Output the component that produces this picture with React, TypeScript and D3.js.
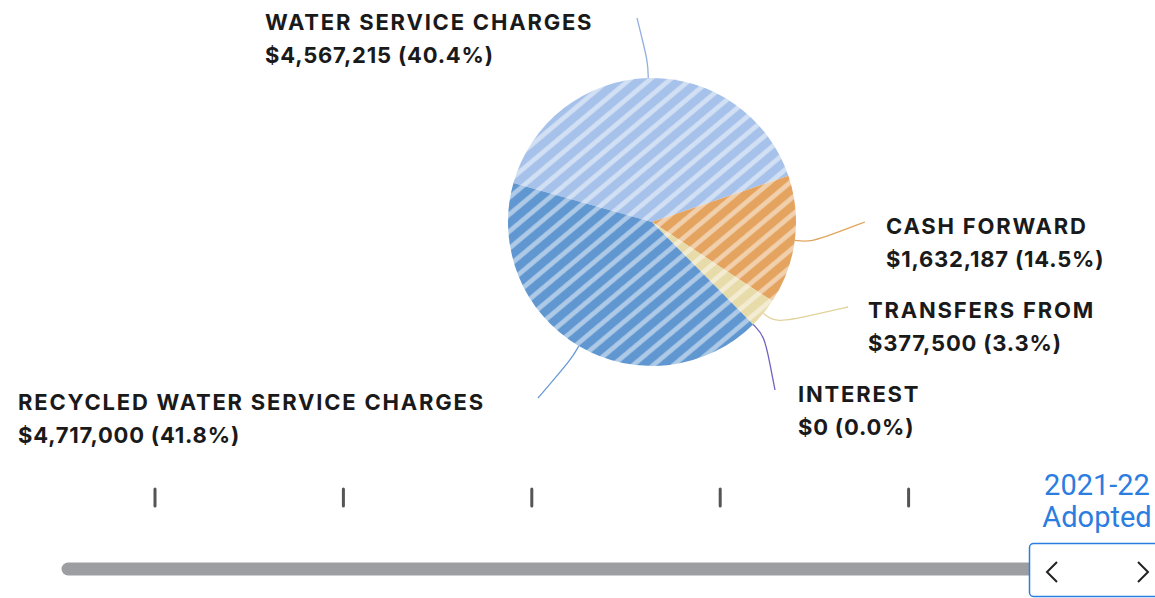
import * as d3 from "d3";

// budget sources for the selected year
const categories = [
  "WATER SERVICE CHARGES",
  "CASH FORWARD",
  "TRANSFERS FROM",
  "INTEREST",
  "RECYCLED WATER SERVICE CHARGES",
];
const amounts = [4567215, 1632187, 377500, 0, 4717000];
const years = ["2016-17", "2017-18", "2018-19", "2019-20", "2020-21", "2021-22"];
const selectedYear = "2021-22";
const selectedLabel = "Adopted";

const W = 1155;
const H = 598;

const fills = ["#a7c2ea", "#e4a35f", "#e7dba9", "#8b7fd0", "#6097d1"];
const lineColors = ["#93afdf", "#e2a55f", "#e2d29c", "#6f62c2", "#6a9ad6"];

// label placement (x, first baseline, connector end point)
const labelPos = [
  { x: 265, y: 30, ex: 637, ey: 18 },
  { x: 886, y: 234, ex: 865, ey: 222 },
  { x: 868, y: 318, ex: 848, ey: 307 },
  { x: 798, y: 402, ex: 775, ey: 390 },
  { x: 18, y: 410, ex: 538, ey: 398 },
];

const fmt = d3.format("$,");
const pctFmt = d3.format(".1%");

export default function App() {
  const cx = 652;
  const cy = 222;
  const r = 144;
  const total = d3.sum(amounts);

  const startDeg = 71.3 - (amounts[0] / total) * 360;
  const pie = d3
    .pie<number>()
    .sort(null)
    .startAngle((startDeg * Math.PI) / 180)
    .endAngle((startDeg * Math.PI) / 180 + 2 * Math.PI)
    .value((d) => d);
  const arcs = pie(amounts);
  const arc = d3.arc<d3.PieArcDatum<number>>().innerRadius(0).outerRadius(r);

  const curve = d3.line().curve(d3.curveBasis);

  const x = d3.scalePoint<string>().domain(years).range([155, 1097]);
  const selX = x(selectedYear) as number;

  return (
    <svg
      width={W}
      height={H}
      style={{ position: "absolute", left: 0, top: 0, background: "#fff" }}
    >
      <defs>
        {fills.map((c, i) => (
          <pattern
            key={i}
            id={`stripe${i}`}
            width={13}
            height={13}
            patternUnits="userSpaceOnUse"
            patternTransform="rotate(-40)"
          >
            <rect width={13} height={13} fill={c} />
            <rect y={4} width={13} height={5} fill="#fff" opacity={0.4} />
            <rect y={5} width={13} height={3} fill="#fff" opacity={0.15} />
          </pattern>
        ))}
      </defs>

      <g transform={`translate(${cx},${cy})`}>
        {arcs.map((a, i) => (
          <path key={i} d={arc(a) || ""} fill={`url(#stripe${i})`} />
        ))}
      </g>

      {arcs.map((a, i) => {
        const mid = (a.startAngle + a.endAngle) / 2;
        const p0: [number, number] = [cx + Math.sin(mid) * r, cy - Math.cos(mid) * r];
        const p1: [number, number] = [
          cx + Math.sin(mid) * (r + 16),
          cy - Math.cos(mid) * (r + 16),
        ];
        const lp = labelPos[i];
        const p2: [number, number] = [(p1[0] + lp.ex) / 2, (p1[1] + lp.ey) / 2];
        return (
          <path
            key={i}
            d={curve([p0, p1, p2, [lp.ex, lp.ey]]) || ""}
            fill="none"
            stroke={lineColors[i]}
            strokeWidth={1.3}
          />
        );
      })}

      {categories.map((c, i) => (
        <text
          key={c}
          x={labelPos[i].x}
          y={labelPos[i].y}
          fontFamily="Inter, sans-serif"
          fontWeight={700}
          fontSize={22}
          fill="#1a1a1a"
        >
          <tspan x={labelPos[i].x} letterSpacing={1.8}>
            {c}
          </tspan>
          <tspan x={labelPos[i].x} dy={32.5} letterSpacing={0.8}>
            {`${fmt(amounts[i])} (${pctFmt(amounts[i] / total)})`}
          </tspan>
        </text>
      ))}

      {/* year slider */}
      <line
        x1={68}
        x2={selX}
        y1={569}
        y2={569}
        stroke="#9c9ea2"
        strokeWidth={13}
        strokeLinecap="round"
      />
      {years
        .filter((y) => y !== selectedYear)
        .map((y) => (
          <line
            key={y}
            x1={x(y)}
            x2={x(y)}
            y1={489}
            y2={506}
            stroke="#555"
            strokeWidth={3}
            strokeLinecap="round"
          />
        ))}
      <text
        x={selX}
        y={495}
        textAnchor="middle"
        fontFamily="Roboto, sans-serif"
        fontSize={29}
        fill="#2b7de0"
      >
        <tspan x={selX}>{selectedYear}</tspan>
        <tspan x={selX} dy={32}>
          {selectedLabel}
        </tspan>
      </text>
      <rect
        x={1029.5}
        y={543.5}
        width={140}
        height={53}
        rx={4}
        fill="#fff"
        stroke="#2b7de0"
        strokeWidth={1.5}
      />
      <path
        d="M1057,562 L1047,572 L1057,582"
        fill="none"
        stroke="#222"
        strokeWidth={2}
      />
      <path
        d="M1138,562 L1148,572 L1138,582"
        fill="none"
        stroke="#222"
        strokeWidth={2}
      />
    </svg>
  );
}
